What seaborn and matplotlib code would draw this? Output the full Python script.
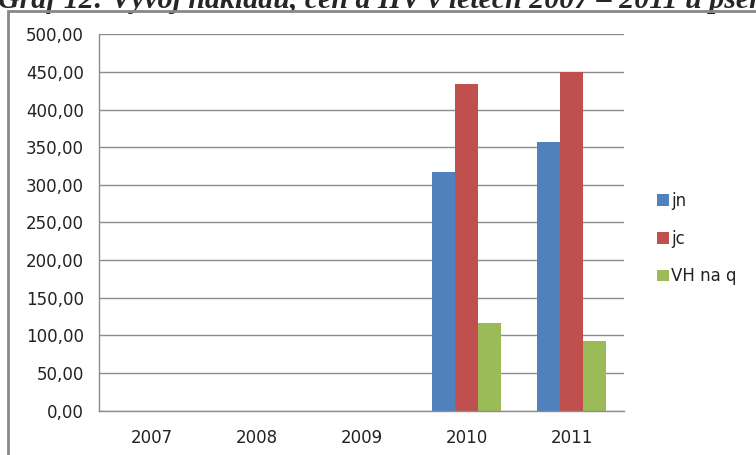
import matplotlib
matplotlib.use("Agg")
import matplotlib.pyplot as plt
import matplotlib.patches as mpatches
from matplotlib.ticker import FuncFormatter, FixedLocator
import pandas as pd
import seaborn as sns

years = ["2007", "2008", "2009", "2010", "2011"]
series = ["jn", "jc", "VH na q"]
jn = [0, 0, 0, 317.5, 357.0]
jc = [0, 0, 0, 433.5, 449.5]
vh = [0, 0, 0, 116.0, 92.5]
colors = ["#4F81BD", "#C0504D", "#9BBB59"]
title = "Graf 12: Vývoj nákladů, cen a HV v letech 2007 – 2011 u pšenice"

df = pd.DataFrame({
    "rok": years * 3,
    "serie": [s for s in series for _ in years],
    "hodnota": jn + jc + vh,
})

sns.set_style("white")
plt.rcParams["font.family"] = ["DejaVu Sans"]

W, H = 756, 455
fig = plt.figure(figsize=(W / 100, H / 100), dpi=100)
fig.patch.set_facecolor("white")

# plot area in pixel coordinates
left, right, top, bottom = 99, 624, 34.3, 410.5
ax = fig.add_axes([left / W, (H - bottom) / H, (right - left) / W, (bottom - top) / H])

sns.barplot(data=df, x="rok", y="hodnota", hue="serie", order=years,
            hue_order=series, palette=colors, width=0.66, gap=0,
            linewidth=0, saturation=1, ax=ax, legend=True)

grid_c = "#8C8C8C"
ax.set_xlim(-0.5, 4.5)
ax.set_ylim(0, 500)
ax.set_yticks(range(0, 501, 50))
ax.yaxis.set_major_formatter(FuncFormatter(lambda v, p: f"{v:.2f}".replace(".", ",")))
ax.yaxis.grid(True, color=grid_c, linewidth=1)
ax.set_axisbelow(True)
ax.set_xlabel("")
ax.set_ylabel("")
for s in ["top", "right"]:
    ax.spines[s].set_visible(False)
for s in ["left", "bottom"]:
    ax.spines[s].set_color(grid_c)
    ax.spines[s].set_linewidth(1)

ax.xaxis.set_minor_locator(FixedLocator([i - 0.5 for i in range(6)]))
ax.tick_params(axis="x", which="major", length=0, pad=13, labelsize=12, labelcolor="#222222")
ax.tick_params(axis="x", which="minor", length=5, color=grid_c, width=1)
ax.tick_params(axis="y", which="major", length=5, color=grid_c, width=1, pad=6,
               labelsize=12, labelcolor="#222222")

leg = ax.get_legend()
handles = leg.legend_handles
leg.remove()
fig.legend(handles, series, loc="upper left",
           bbox_to_anchor=(642 / W, 1 - 177 / H), frameon=False,
           handlelength=0.7, handleheight=0.7, handletextpad=0.15,
           labelspacing=1.18, fontsize=12, labelcolor="#222222")

# outer chart frame
fig.add_artist(mpatches.Rectangle((7.5 / W, -0.1), 2.0, (H - 11) / H + 0.1,
                                  transform=fig.transFigure, fill=False,
                                  edgecolor="#888888", linewidth=2))

fig.text(-2 / W, 1 - 8 / H, title, fontsize=21.5, fontweight="bold", fontstyle="italic",
         family="Liberation Serif", va="baseline", ha="left", zorder=0)

fig.savefig("out.png", dpi=100)
